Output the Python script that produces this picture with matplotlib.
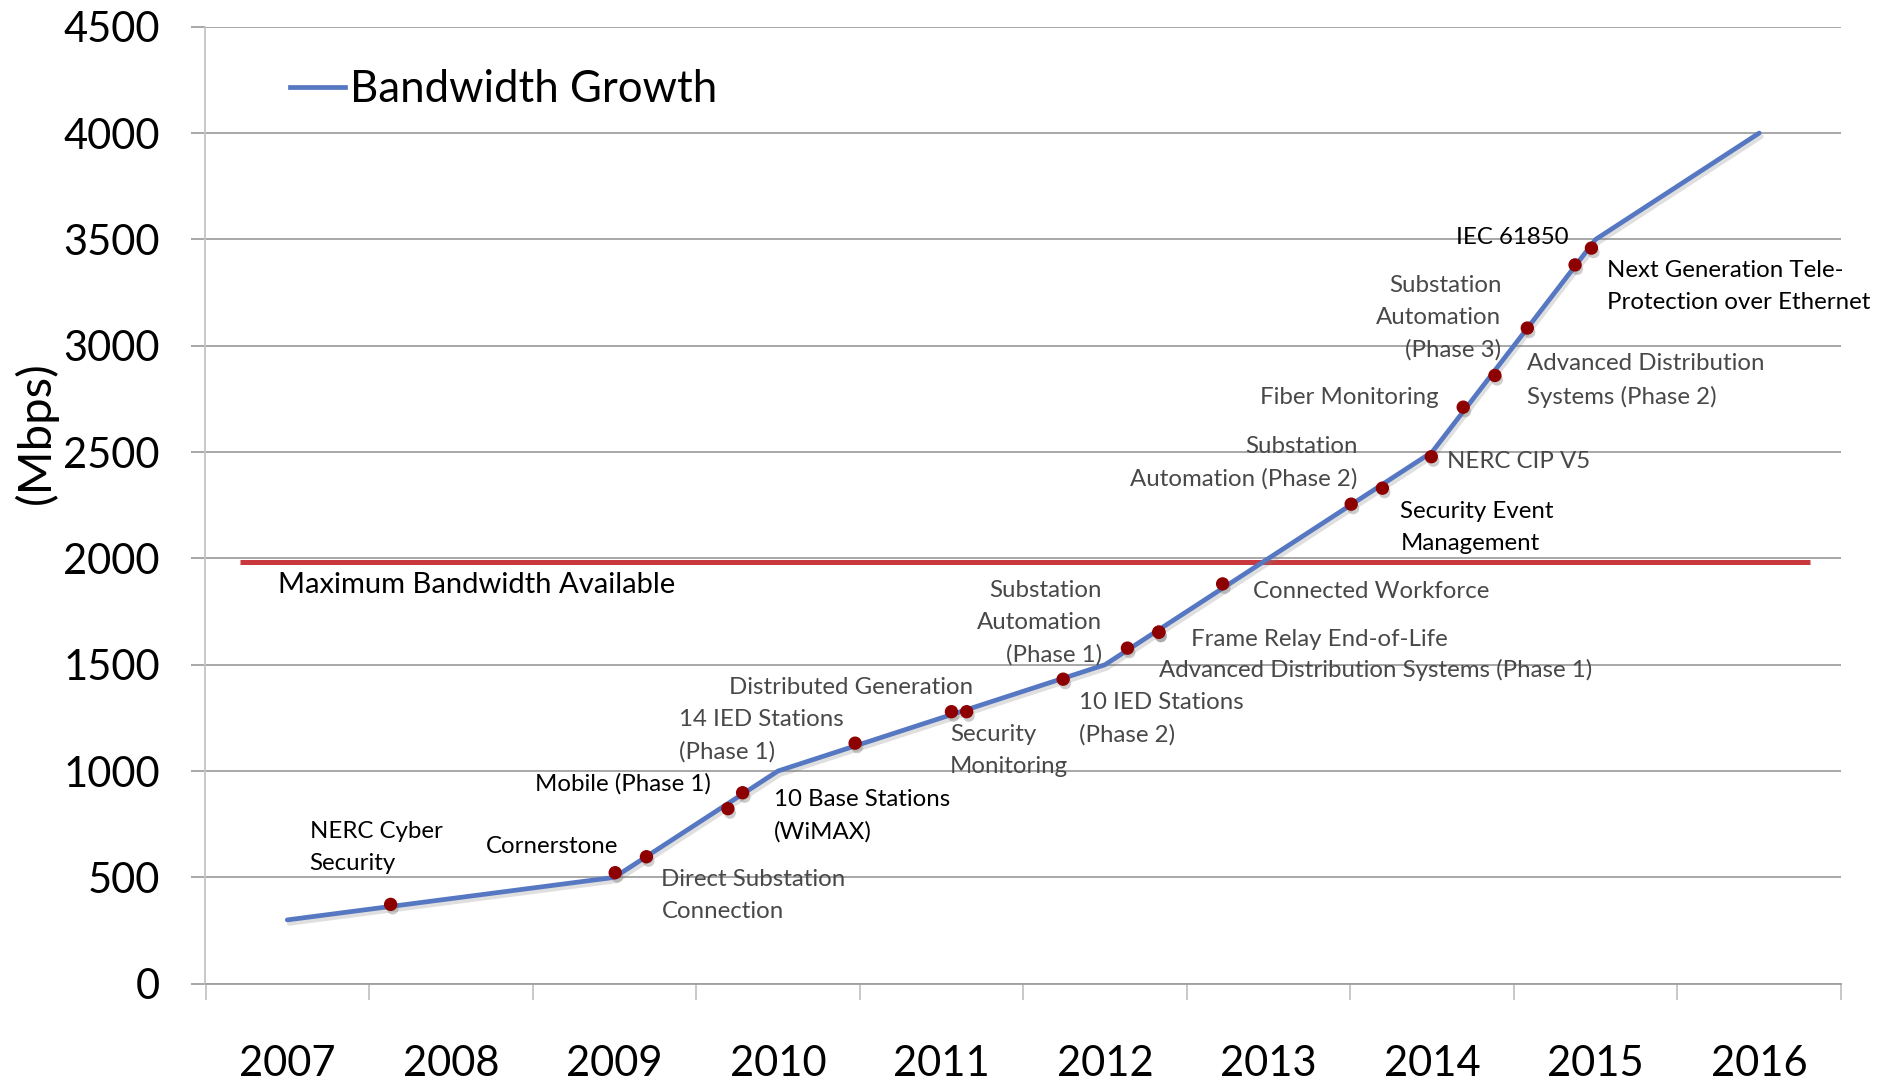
import matplotlib
matplotlib.use("Agg")
import matplotlib.pyplot as plt
import matplotlib.patheffects as pe
from matplotlib.lines import Line2D
import numpy as np

plt.rcParams['font.family'] = ['Lato', 'DejaVu Sans']

# data
years = ['2007', '2008', '2009', '2010', '2011', '2012', '2013', '2014', '2015', '2016']
bandwidth = [300, 400, 500, 1000, 1250, 1500, 2000, 2500, 3500, 4000]

max_bw = 1985
max_bw_span = (-0.29, 9.31)

# events: category position, value, label
event_x = [0.632, 2.005, 2.196, 2.784, 2.694, 3.472, 4.061, 4.154, 4.744, 5.137,
           5.329, 5.329, 5.719, 6.505, 6.696, 6.995, 7.19, 7.384, 7.582, 7.874, 7.974]
event_y = [373, 522, 597, 898, 823, 1131, 1279, 1279, 1432, 1578,
           1653, 1653, 1880, 2255, 2330, 2478, 2711, 2860, 3083, 3380, 3459]
event_labels = [
    "NERC Cyber\nSecurity",
    "Cornerstone",
    "Direct Substation\nConnection",
    "Mobile (Phase 1)",
    "10 Base Stations\n(WiMAX)",
    "14 IED Stations\n(Phase 1)",
    "Distributed Generation",
    "Security\nMonitoring",
    "10 IED Stations\n(Phase 2)",
    "Substation\nAutomation\n(Phase 1)",
    "Frame Relay End-of-Life",
    "Advanced Distribution Systems (Phase 1)",
    "Connected Workforce",
    "Substation\nAutomation (Phase 2)",
    "Security Event\nManagement",
    "NERC CIP V5",
    "Fiber Monitoring",
    "Advanced Distribution\nSystems (Phase 2)",
    "Substation\nAutomation\n(Phase 3)",
    "IEC 61850",
    "Next Generation Tele-\nProtection over Ethernet",
]

# label layout: offset from marker in pixels, alignment, dark text or grey
label_dx = [-81, -129.5, 15, -208, 46, -176, -222, -16.5, 15.6, -25.4,
            32.5, 0.5, 30, 6.7, 18, 15.7, -25, 32, -26, -7, 15.4]
label_dy = [57, 26, -39, 9, -7, 7, 24, -39, -39.5, 25,
            -7, -38, -8, 41.5, -39, -5, 9.5, -5, 10, 27, -38.7]
label_ha = ['left', 'left', 'left', 'left', 'left', 'left', 'left', 'left', 'left', 'right',
            'left', 'left', 'left', 'right', 'left', 'left', 'right', 'left', 'right', 'right', 'left']
label_dark = [1, 1, 0, 1, 1, 0, 0, 0, 0, 0,
              0, 0, 0, 0, 1, 0, 0, 0, 0, 1, 1]

W, H = 1881, 1081
fig = plt.figure(figsize=(W / 100, H / 100), dpi=100)
x0, x1, y0, y1 = 205.5, 1841, 983.7, 26.7
ax = fig.add_axes([x0 / W, 1 - y0 / H, (x1 - x0) / W, (y0 - y1) / H])

grid_c = '#A0A0A0'
ax.set_xlim(-0.5, 9.5)
ax.set_ylim(0, 4500)
ax.set_yticks(np.arange(0, 4501, 500))
ax.yaxis.grid(True, color=grid_c, lw=1.3)
ax.set_axisbelow(True)
for s in ['top', 'right']:
    ax.spines[s].set_visible(False)
ax.spines['left'].set_color('#C4C4C4')
ax.spines['left'].set_linewidth(1.3)
ax.spines['bottom'].set_color(grid_c)
ax.spines['bottom'].set_linewidth(1.3)

ax.set_xticks(range(len(years)))
ax.set_xticklabels(years)
ax.set_xticks(np.arange(-0.5, 9.6, 1), minor=True)
ax.tick_params(axis='x', which='major', length=0, pad=44, labelsize=30)
ax.tick_params(axis='x', which='minor', length=11.5, width=1.3, color='#C4C4C4')
ax.tick_params(axis='y', length=10, width=1.3, color=grid_c, pad=23, labelsize=30)

ax.set_ylabel('(Mbps)', fontsize=34, va='center')
ax.yaxis.set_label_coords(-0.1036, 0.5754)

# max bandwidth line
ax.hlines(max_bw, max_bw_span[0], max_bw_span[1], color='#C8383D', lw=3.6, zorder=2)
ax.annotate('Maximum Bandwidth Available', xy=(max_bw_span[0], max_bw),
            xytext=(38, -23), textcoords='offset pixels', ha='left', va='center',
            fontsize=21, color='black')

# growth line
line, = ax.plot(range(len(years)), bandwidth, color='#5677C2', lw=3.4,
                solid_capstyle='round', solid_joinstyle='round', zorder=3,
                path_effects=[pe.SimpleLineShadow(offset=(1.5, -2.5), shadow_color='#808080', alpha=0.25),
                              pe.Normal()])

# event markers
ax.plot(event_x, event_y, ls='none', marker='o', ms=8.6, mfc='#8E0000', mec='#8E0000', zorder=4,
        path_effects=[pe.SimplePatchShadow(offset=(1.5, -3), shadow_rgbFace='#707070', alpha=0.35),
                      pe.Normal()])

for i, txt in enumerate(event_labels):
    ax.annotate(txt, xy=(event_x[i], event_y[i]), xytext=(label_dx[i], label_dy[i]),
                textcoords='offset pixels', ha=label_ha[i], va='center',
                fontsize=17.3, linespacing=1.63,
                color='black' if label_dark[i] else '#484848', zorder=5)

ax.legend(handles=[Line2D([], [], color='#5677C2', lw=3.4)], labels=['Bandwidth Growth'],
          loc='center left', bbox_to_anchor=(290 / W, 1 - 90 / H), bbox_transform=fig.transFigure,
          frameon=False, fontsize=31.5, handlelength=1.25, handletextpad=0.13,
          borderpad=0, borderaxespad=0)

fig.savefig('out.png', dpi=100)
